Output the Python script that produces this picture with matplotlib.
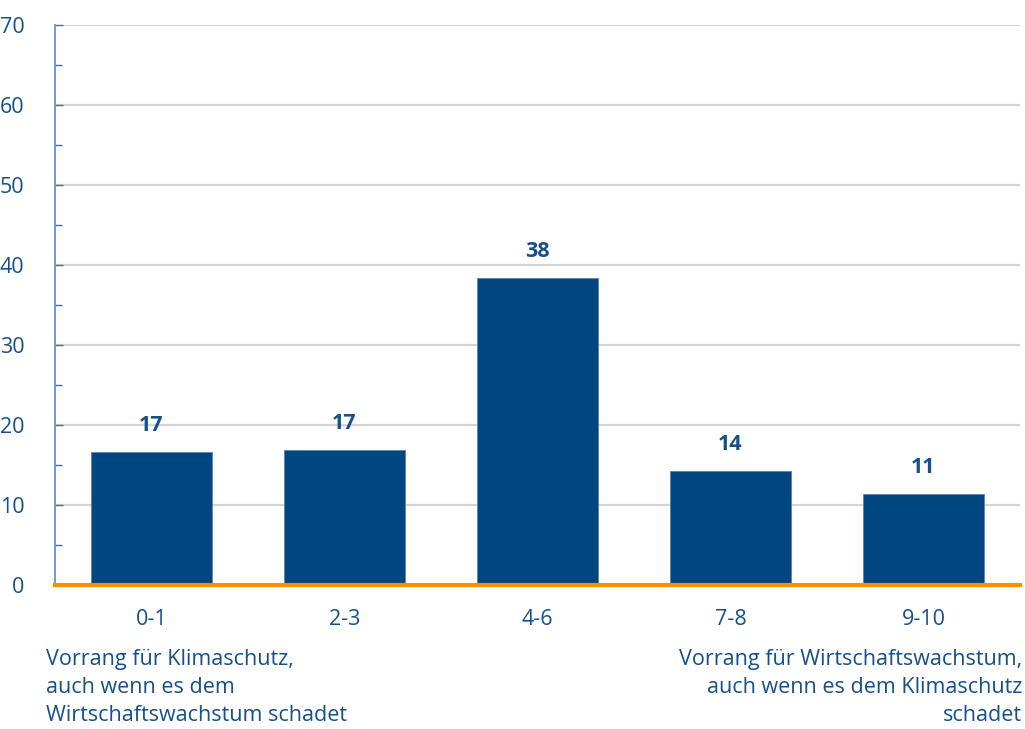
import matplotlib.pyplot as plt
import numpy as np
from matplotlib.ticker import MultipleLocator

plt.rcParams['font.family'] = ['Open Sans', 'DejaVu Sans']

categories = ["0-1", "2-3", "4-6", "7-8", "9-10"]
shares = [16.6, 16.9, 38.4, 14.3, 11.4]
left_note = "Vorrang für Klimaschutz,\nauch wenn es dem\nWirtschaftswachstum schadet"
right_note = "Vorrang für Wirtschaftswachstum,\nauch wenn es dem Klimaschutz\nschadet"

blue = "#00467f"
text_blue = "#15508c"

fig = plt.figure(figsize=(10.25, 7.29), dpi=100)
ax = fig.add_axes([0.0537, 0.1975, 0.9413, 0.7682])

x = np.arange(len(categories))
ax.bar(x, shares, width=0.627, color=blue, edgecolor="#5a84b0", linewidth=0.6, zorder=3)

for xi, v in zip(x, shares):
    ax.text(xi, v + 2.0, f"{v:.0f}", ha="center", va="bottom",
            fontsize=15.5, fontweight="bold", color=text_blue)

ax.set_xlim(-0.5, len(categories) - 0.5)
ax.set_ylim(0, 70)
ax.yaxis.set_major_locator(MultipleLocator(10))
ax.yaxis.set_minor_locator(MultipleLocator(5))
ax.set_xticks(x)
ax.set_xticklabels(categories)

ax.grid(axis="y", which="major", color="#d4d4d4", linewidth=1.6, zorder=0)
ax.axhline(0, color="#f39200", linewidth=3.0, zorder=4, clip_on=False)

for s in ["top", "right", "bottom"]:
    ax.spines[s].set_visible(False)
ax.spines["left"].set_color("#6f93ba")
ax.spines["left"].set_linewidth(1.3)

ax.tick_params(axis="y", which="both", direction="in", color="#4a6f98",
               width=1.0, labelsize=15.5, labelcolor=text_blue)
ax.tick_params(axis="y", which="major", length=6, pad=22)
ax.tick_params(axis="y", which="minor", length=5)
ax.tick_params(axis="x", length=0, pad=17, labelsize=15.5, labelcolor=text_blue)

fig.text(0.045, 0.11, left_note, ha="left", va="top", fontsize=15.5,
         color=text_blue, linespacing=1.45)
fig.text(0.997, 0.11, right_note, ha="right", va="top", fontsize=15.5,
         color=text_blue, linespacing=1.45, multialignment="right")

fig.savefig("out.png", dpi=100)
